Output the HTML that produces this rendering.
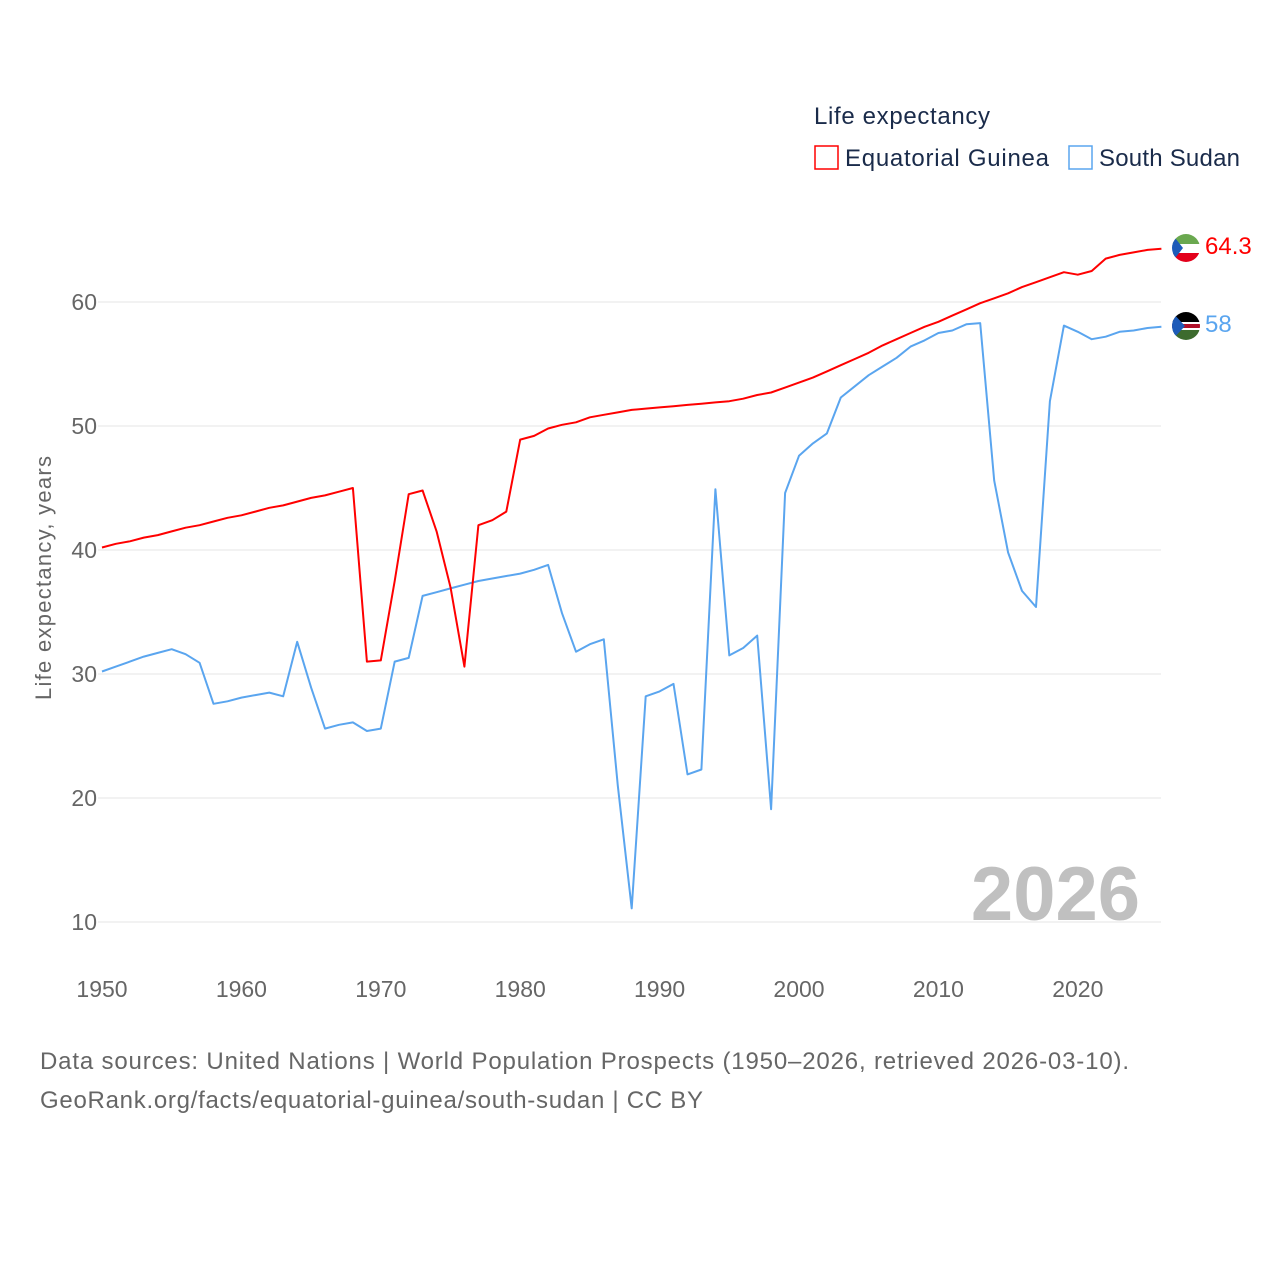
<!DOCTYPE html>
<html><head><meta charset="utf-8"><style>
body{margin:0;background:#fff;font-family:"Liberation Sans",sans-serif;}
</style></head><body>
<svg id="c" width="1280" height="1280" viewBox="0 0 1280 1280" xmlns="http://www.w3.org/2000/svg">
<defs>
<clipPath id="f1"><circle cx="1186" cy="248" r="14"/></clipPath>
<clipPath id="f2"><circle cx="1186" cy="326" r="14"/></clipPath>
</defs>
<g id="grid"></g>
<g id="lines"></g>
<text x="1140" y="920" text-anchor="end" font-size="76" font-weight="bold" fill="#c0c0c0">2026</text>
<text transform="translate(51,578) rotate(-90)" text-anchor="middle" font-size="22" fill="#666" textLength="244">Life expectancy, years</text>
<text x="814" y="124" font-size="24" fill="#1a2b4a" textLength="176">Life expectancy</text>
<g><rect x="815" y="146" width="23" height="23" fill="none" stroke="#f00" stroke-width="1.5"/><text x="845" y="166" font-size="24" fill="#1a2b4a" textLength="204">Equatorial Guinea</text></g>
<g><rect x="1069" y="146" width="23" height="23" fill="none" stroke="#5aa5ef" stroke-width="1.5"/><text x="1099" y="166" font-size="24" fill="#1a2b4a" textLength="141">South Sudan</text></g>
<g clip-path="url(#f1)">
<rect x="1172" y="234" width="28" height="10" fill="#6aa84f"/><rect x="1172" y="244" width="28" height="9" fill="#fff"/><rect x="1172" y="253" width="28" height="10" fill="#e3001b"/><polygon points="1172,234 1183,248 1172,262" fill="#1e5bb8"/></g>
<g clip-path="url(#f2)">
<rect x="1172" y="312" width="28" height="10" fill="#000"/><rect x="1172" y="322" width="28" height="8" fill="#fff"/><rect x="1172" y="324" width="28" height="4" fill="#b0102a"/><rect x="1172" y="330" width="28" height="10" fill="#3d6b2e"/><polygon points="1172,312 1185,326 1172,340" fill="#1e5bb8"/></g>
<text x="1205" y="254" font-size="24" fill="#f00">64.3</text>
<text x="1205" y="332" font-size="24" fill="#5aa5ef">58</text>
<text x="40" y="1069" font-size="24" fill="#666" textLength="1089">Data sources: United Nations | World Population Prospects (1950–2026, retrieved 2026-03-10).</text>
<text x="40" y="1108" font-size="24" fill="#666" textLength="663">GeoRank.org/facts/equatorial-guinea/south-sudan | CC BY</text>
</svg>
<script>
const startYear = 1950;
const yTicks = [10,20,30,40,50,60];
const xTicks = [1950,1960,1970,1980,1990,2000,2010,2020];
const eqGuinea = [40.2,40.5,40.7,41.0,41.2,41.5,41.8,42.0,42.3,42.6,42.8,43.1,43.4,43.6,43.9,44.2,44.4,44.7,45.0,31.0,31.1,37.5,44.5,44.8,41.5,37.0,30.6,42.0,42.4,43.1,48.9,49.2,49.8,50.1,50.3,50.7,50.9,51.1,51.3,51.4,51.5,51.6,51.7,51.8,51.9,52.0,52.2,52.5,52.7,53.1,53.5,53.9,54.4,54.9,55.4,55.9,56.5,57.0,57.5,58.0,58.4,58.9,59.4,59.9,60.3,60.7,61.2,61.6,62.0,62.4,62.2,62.5,63.5,63.8,64.0,64.2,64.3];
const southSudan = [30.2,30.6,31.0,31.4,31.7,32.0,31.6,30.9,27.6,27.8,28.1,28.3,28.5,28.2,32.6,28.9,25.6,25.9,26.1,25.4,25.6,31.0,31.3,36.3,36.6,36.9,37.2,37.5,37.7,37.9,38.1,38.4,38.8,34.9,31.8,32.4,32.8,21.0,11.1,28.2,28.6,29.2,21.9,22.3,44.9,31.5,32.1,33.1,19.1,44.6,47.6,48.6,49.4,52.3,53.2,54.1,54.8,55.5,56.4,56.9,57.5,57.7,58.2,58.3,45.6,39.8,36.7,35.4,52.0,58.1,57.6,57.0,57.2,57.6,57.7,57.9,58.0];
const NS="http://www.w3.org/2000/svg";
const xS = yr => 102 + (yr-1950)*13.94;
const yS = v => 922 - (v-10)*12.4;
const grid=document.getElementById('grid'), lines=document.getElementById('lines');
yTicks.forEach(t=>{
  const l=document.createElementNS(NS,'line');
  l.setAttribute('x1',98);l.setAttribute('x2',1161);l.setAttribute('y1',yS(t));l.setAttribute('y2',yS(t));
  l.setAttribute('stroke','#e6e6e6');l.setAttribute('stroke-width',1);
  
  
  grid.appendChild(l);
  const tx=document.createElementNS(NS,'text');
  tx.setAttribute('x',97);tx.setAttribute('y',yS(t)+8);tx.setAttribute('text-anchor','end');
  tx.setAttribute('font-size',23);tx.setAttribute('fill','#666');tx.textContent=t;
  
  
  grid.appendChild(tx);
});
xTicks.forEach(t=>{
  const tx=document.createElementNS(NS,'text');
  tx.setAttribute('x',xS(t));tx.setAttribute('y',997);tx.setAttribute('text-anchor','middle');
  tx.setAttribute('font-size',23);tx.setAttribute('fill','#666');tx.textContent=t;
  
  
  grid.appendChild(tx);
});
function draw(arr,color,name){
  const p=document.createElementNS(NS,'path');
  p.setAttribute('d',arr.map((v,i)=>(i?'L':'M')+xS(startYear+i).toFixed(1)+','+yS(v).toFixed(1)).join(''));
  p.setAttribute('fill','none');p.setAttribute('stroke',color);p.setAttribute('stroke-width',2);
  p.setAttribute('stroke-linejoin','round');
  
  
  lines.appendChild(p);
}
draw(southSudan,'#5aa5ef','line-south-sudan');
draw(eqGuinea,'#f00','line-equatorial-guinea');
</script>
</body></html>
